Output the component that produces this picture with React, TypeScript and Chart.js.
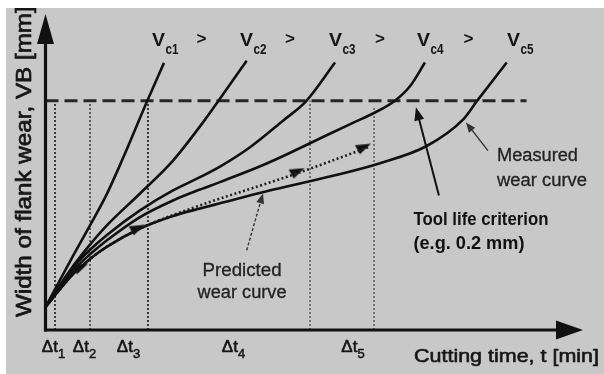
import React, { useEffect, useRef } from "react";
import { Chart, registerables } from "chart.js";
Chart.register(...registerables);

// ---- Data (t in schematic minutes, VB in mm) ----
const vc1T = [0, 3.08, 4.98, 6.84, 8.67, 11.35, 13.25];
const vc1VB = [0.02, 0.0647, 0.0913, 0.1183, 0.15, 0.1994, 0.233];
const vc2T = [0, 3.11, 4.98, 6.84, 10.57, 14.26, 18.03, 19.29, 22.5];
const vc2VB = [0.02, 0.056, 0.0745, 0.091, 0.1191, 0.1478, 0.1855, 0.1994, 0.2348];
const vc3T = [0, 3.11, 4.98, 6.84, 10.57, 14.26, 17.28, 19.51, 22.87, 26.56, 29.13, 32.38];
const vc3VB = [0.02, 0.055, 0.07, 0.0827, 0.1043, 0.1217, 0.1333, 0.1425, 0.1594, 0.1826, 0.1994, 0.2333];
const vc4T = [0, 3.11, 4.98, 6.84, 10.57, 14.26, 17.28, 19.51, 24.74, 32.15, 34.61, 36.85, 39.08, 40.76, 42.44];
const vc4VB = [0.02, 0.052, 0.066, 0.078, 0.0985, 0.113, 0.1225, 0.129, 0.1452, 0.1725, 0.1815, 0.1897, 0.2, 0.2126, 0.2333];
const vc5T = [0, 3.11, 4.98, 6.84, 10.57, 14.26, 17.28, 19.51, 24.74, 32.15, 37.41, 42.63, 46.69, 48.22, 51.58];
const vc5VB = [0.02, 0.049, 0.062, 0.0725, 0.0885, 0.0995, 0.106, 0.1105, 0.121, 0.1345, 0.1455, 0.1605, 0.1835, 0.1994, 0.2333];

const predictedT = [0, 3.11, 4.98, 6.84, 10.57, 17.28, 24.74, 28.09, 32.15, 36.3];
const predictedVB = [0.02, 0.049, 0.062, 0.0725, 0.0885, 0.1087, 0.1278, 0.1365, 0.148, 0.16];
const predictedMarkT = [3.86, 10.2, 28.09, 35.5];
const predictedMarkVB = [0.053, 0.087, 0.1365, 0.1577];

const criterionT = [0, 53.8];
const criterionVB = [0.2, 0.2];

const intervalT = [1.06, 4.98, 11.46, 29.58, 36.74];
const intervalTopVB = [0.2, 0.2, 0.2, 0.2, 0.194];
const intervalSubs = ["1", "2", "3", "4", "5"];
const intervalLabelT = [0.89, 4.36, 9.28, 21.02, 34.39];

const speedSubs = ["c1", "c2", "c3", "c4", "c5"];
const speedLabelT = [13.36, 23.2, 33.16, 43.0, 53.06];
const speedLabelVB = 0.2478;
const speedOrderT = [17.45, 27.34, 37.41, 47.3];

// annotation arrows: predicted, measured, tool life
const arrowFromT = [22.5, 49.48, 44.0];
const arrowFromVB = [0.0696, 0.1565, 0.1174];
const arrowToT = [24.32, 47.02, 41.43];
const arrowToVB = [0.1191, 0.1811, 0.1942];

const FONT = "'Liberation Sans', Arial, Helvetica, sans-serif";

function pts(t: number[], v: number[]) {
  return t.map((x, i) => ({ x, y: v[i] }));
}

function fitText(
  ctx: CanvasRenderingContext2D,
  text: string,
  x: number,
  y: number,
  font: string,
  width: number | null,
  align = "left",
  stroke = 0
) {
  ctx.save();
  ctx.font = font;
  const w = ctx.measureText(text).width;
  const s = width ? width / w : 1;
  let x0 = x;
  if (align === "center") x0 = x - (w * s) / 2;
  else if (align === "right") x0 = x - w * s;
  ctx.translate(x0, y);
  ctx.scale(s, 1);
  ctx.textAlign = "left";
  ctx.textBaseline = "alphabetic";
  ctx.fillText(text, 0, 0);
  if (stroke > 0) {
    ctx.strokeStyle = ctx.fillStyle as string;
    ctx.lineWidth = stroke;
    ctx.lineJoin = "round";
    ctx.strokeText(text, 0, 0);
  }
  ctx.restore();
}

function arrowHead(ctx: CanvasRenderingContext2D, fx: number, fy: number, tx: number, ty: number, len: number, half: number) {
  const a = Math.atan2(ty - fy, tx - fx);
  const c = Math.cos(a), s = Math.sin(a);
  ctx.beginPath();
  ctx.moveTo(tx, ty);
  ctx.lineTo(tx - len * c + half * s, ty - len * s - half * c);
  ctx.lineTo(tx - len * c - half * s, ty - len * s + half * c);
  ctx.closePath();
  ctx.fill();
}

const decor = {
  id: "decor",
  beforeDraw(chart: any) {
    const ctx = chart.ctx as CanvasRenderingContext2D;
    ctx.save();
    ctx.fillStyle = "#ffffff";
    ctx.fillRect(0, 0, chart.width, chart.height);
    ctx.fillStyle = "#c8c8c8";
    ctx.fillRect(6, 8, chart.width - 6, chart.height - 8);
    ctx.restore();
  },
  afterDatasetsDraw(chart: any) {
    const ctx = chart.ctx as CanvasRenderingContext2D;
    const xs = chart.scales.x, ys = chart.scales.y;
    const ca = chart.chartArea;
    const ox = xs.getPixelForValue(0), oy = ys.getPixelForValue(0);
    ctx.save();
    ctx.strokeStyle = "#111";
    ctx.fillStyle = "#111";
    ctx.lineWidth = 3.2;
    ctx.setLineDash([]);
    // y axis
    ctx.beginPath();
    ctx.moveTo(ox, oy + 1.5);
    ctx.lineTo(ox, ca.top + 30);
    ctx.stroke();
    ctx.beginPath();
    ctx.moveTo(ox, ca.top + 5);
    ctx.lineTo(ox - 8.5, ca.top + 35);
    ctx.lineTo(ox + 8.5, ca.top + 35);
    ctx.closePath();
    ctx.fill();
    // x axis
    ctx.beginPath();
    ctx.moveTo(ox - 1.5, oy);
    ctx.lineTo(ca.right - 20, oy);
    ctx.stroke();
    ctx.beginPath();
    ctx.moveTo(ca.right + 1, oy);
    ctx.lineTo(ca.right - 26, oy - 9.5);
    ctx.lineTo(ca.right - 26, oy + 9.5);
    ctx.closePath();
    ctx.fill();

    // annotation arrows
    const widths = [1.4, 1.4, 2];
    const dashes = [[3, 2], [], []];
    const heads = [[10, 4], [10, 4], [13, 5]];
    const cols = ["#333", "#333", "#111"];
    for (let i = 0; i < arrowFromT.length; i++) {
      const fx = xs.getPixelForValue(arrowFromT[i]), fy = ys.getPixelForValue(arrowFromVB[i]);
      const tx = xs.getPixelForValue(arrowToT[i]), ty = ys.getPixelForValue(arrowToVB[i]);
      ctx.strokeStyle = cols[i];
      ctx.fillStyle = cols[i];
      ctx.lineWidth = widths[i];
      ctx.setLineDash(dashes[i]);
      const a = Math.atan2(ty - fy, tx - fx);
      ctx.beginPath();
      ctx.moveTo(fx, fy);
      ctx.lineTo(tx - (heads[i][0] - 2) * Math.cos(a), ty - (heads[i][0] - 2) * Math.sin(a));
      ctx.stroke();
      ctx.setLineDash([]);
      arrowHead(ctx, fx, fy, tx, ty, heads[i][0], heads[i][1]);
    }
    ctx.restore();
  },
  afterDraw(chart: any) {
    const ctx = chart.ctx as CanvasRenderingContext2D;
    const xs = chart.scales.x, ys = chart.scales.y;
    const X = (t: number) => xs.getPixelForValue(t);
    const Y = (v: number) => ys.getPixelForValue(v);
    ctx.save();
    ctx.fillStyle = "#161616";

    // speed labels
    for (let i = 0; i < speedSubs.length; i++) {
      const x = X(speedLabelT[i]);
      const y = Y(speedLabelVB);
      fitText(ctx, "V", x, y, `bold 18px ${FONT}`, 13, "right");
      fitText(ctx, speedSubs[i], x + 0.5, y + 8, `bold 14px ${FONT}`, 13, "left");
    }
    for (let i = 0; i < speedOrderT.length; i++) {
      fitText(ctx, ">", X(speedOrderT[i]), Y(speedLabelVB) - 2, `bold 17px ${FONT}`, null, "center");
    }

    // interval labels
    for (let i = 0; i < intervalSubs.length; i++) {
      const cx = X(intervalLabelT[i]);
      const y = Y(0) + 22;
      ctx.font = `17px ${FONT}`;
      const mw = ctx.measureText("\u0394t").width;
      ctx.font = `13px ${FONT}`;
      const sw = ctx.measureText(intervalSubs[i]).width;
      const left = cx - (mw + sw) / 2;
      fitText(ctx, "\u0394t", left, y, `17px ${FONT}`, null, "left", 0.6);
      fitText(ctx, intervalSubs[i], left + mw, y + 6, `13px ${FONT}`, null, "left", 0.5);
    }

    // x title
    fitText(ctx, "Cutting time, t [min]", X(61.9), Y(-0.0278), `19px ${FONT}`, 185, "right", 0.6);

    // y title (rotated, clipped at frame)
    ctx.save();
    ctx.beginPath();
    ctx.rect(6, 8, chart.width - 6, chart.height - 8);
    ctx.clip();
    ctx.translate(X(-1.62), Y(0.0113));
    ctx.rotate(-Math.PI / 2);
    ctx.font = `22px ${FONT}`;
    const part = ctx.measureText("Width of flank wear, VB [mm").width;
    const full = ctx.measureText("Width of flank wear, VB [mm]").width;
    fitText(ctx, "Width of flank wear, VB [mm]", 0, 0, `22px ${FONT}`, full * (304 / part), "left", 0.7);
    ctx.restore();

    // annotation texts
    ctx.fillStyle = "#222";
    fitText(ctx, "Predicted", X(21.98), Y(0.047), `18px ${FONT}`, 79, "center", 0.3);
    fitText(ctx, "wear curve", X(21.98), Y(0.0278), `18px ${FONT}`, 89, "center", 0.3);
    fitText(ctx, "Measured", X(50.49), Y(0.147), `18px ${FONT}`, 81, "left", 0.3);
    fitText(ctx, "wear curve", X(50.49), Y(0.126), `18px ${FONT}`, 90, "left", 0.3);
    ctx.fillStyle = "#111";
    fitText(ctx, "Tool life criterion", X(41.15), Y(0.0913), `bold 19px ${FONT}`, 135, "left");
    fitText(ctx, "(e.g. 0.2 mm)", X(41.15), Y(0.0704), `bold 18px ${FONT}`, 111, "left");
    ctx.restore();
  },
};

export default function App() {
  const ref = useRef<HTMLCanvasElement | null>(null);
  useEffect(() => {
    if (!ref.current) return;
    const marker = document.createElement("canvas");
    marker.width = 18;
    marker.height = 12;
    const mctx = marker.getContext("2d")!;
    mctx.fillStyle = "#111";
    mctx.beginPath();
    mctx.moveTo(1, 2);
    mctx.lineTo(17, 0.5);
    mctx.lineTo(6, 11);
    mctx.closePath();
    mctx.fill();

    const curve = (t: number[], v: number[]) => ({
      data: pts(t, v),
      showLine: true,
      borderColor: "#111",
      borderWidth: 2.6,
      pointRadius: 0,
      cubicInterpolationMode: "monotone" as const,
      fill: false,
    });
    const intervalWidths = [2, 1.5, 2, 1.2, 1.2];
    const datasets: any[] = [
      curve(vc1T, vc1VB),
      curve(vc2T, vc2VB),
      curve(vc3T, vc3VB),
      curve(vc4T, vc4VB),
      curve(vc5T, vc5VB),
      {
        data: pts(predictedT, predictedVB),
        showLine: true,
        borderColor: "#222",
        borderWidth: 2.6,
        borderDash: [2, 2.5],
        pointRadius: 0,
        cubicInterpolationMode: "monotone",
      },
      {
        data: pts(predictedMarkT, predictedMarkVB),
        showLine: false,
        pointStyle: marker,
        pointRadius: 8,
      },
      {
        data: pts(criterionT, criterionVB),
        showLine: true,
        borderColor: "#262626",
        borderWidth: 3,
        borderDash: [13, 6],
        pointRadius: 0,
      },
      ...intervalT.map((t, i) => ({
        data: [
          { x: t, y: 0 },
          { x: t, y: intervalTopVB[i] },
        ],
        showLine: true,
        borderColor: "#3a3a3a",
        borderWidth: intervalWidths[i],
        borderDash: [2, 2],
        pointRadius: 0,
      })),
    ];
    const chart = new Chart(ref.current, {
      type: "scatter",
      data: { datasets },
      options: {
        animation: false,
        responsive: false,
        devicePixelRatio: 1,
        events: [],
        layout: { padding: { left: 45.5, right: 22, top: 8, bottom: 44 } },
        plugins: { legend: { display: false }, tooltip: { enabled: false }, title: { display: false } },
        scales: {
          x: { type: "linear", min: 0, max: 60, display: false },
          y: { type: "linear", min: 0, max: 0.28, display: false },
        },
      },
      plugins: [decor],
    });
    return () => chart.destroy();
  }, []);
  return (
    <div style={{ position: "absolute", left: 0, top: 0, width: 604, height: 374 }}>
      <canvas ref={ref} width={604} height={374} style={{ display: "block", width: 604, height: 374 }} />
    </div>
  );
}
